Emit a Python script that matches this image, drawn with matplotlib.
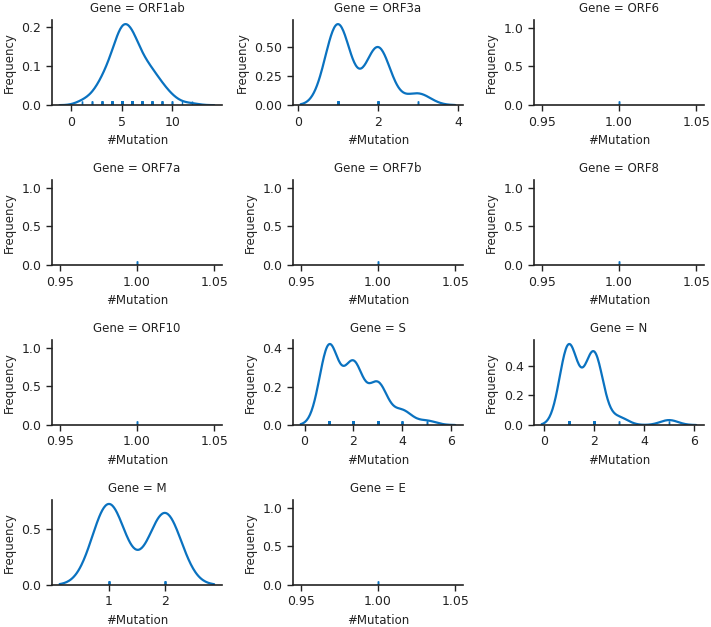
import numpy as np
import matplotlib
matplotlib.use("Agg")
import matplotlib.pyplot as plt
from matplotlib.ticker import MaxNLocator
import seaborn as sns

# number of mutations per sample (value) and how many samples had it (count)
orf1ab_values = [1, 2, 3, 4, 5, 6, 7, 8, 9, 10, 11, 12]
orf1ab_counts = [2, 4, 11, 20, 36, 32, 20, 15, 9, 4, 1, 1]
orf3a_values = [1, 2, 3]
orf3a_counts = [21, 15, 3]
s_values = [1, 2, 3, 4, 5]
s_counts = [56, 43, 29, 10, 3]
n_values = [1, 2, 3, 5]
n_counts = [32, 29, 3, 2]
m_values = [1, 2]
m_counts = [9, 8]
single_values = [1]   # ORF6, ORF7a, ORF7b, ORF8, ORF10, E
single_counts = [3]

genes = ["ORF1ab", "ORF3a", "ORF6", "ORF7a", "ORF7b", "ORF8",
         "ORF10", "S", "N", "M", "E"]
gene_data = {
    "ORF1ab": (orf1ab_values, orf1ab_counts),
    "ORF3a": (orf3a_values, orf3a_counts),
    "S": (s_values, s_counts),
    "N": (n_values, n_counts),
    "M": (m_values, m_counts),
}

color = "#0a72c0"

sns.set_style("ticks")
plt.rcParams["font.family"] = ["DejaVu Sans"]

fig, axes = plt.subplots(4, 3, figsize=(7.11, 6.27), dpi=100)
fig.subplots_adjust(left=0.073, right=0.990, bottom=0.067, top=0.968,
                    wspace=0.418, hspace=0.88)
axes = axes.flatten()

for ax, gene in zip(axes, genes):
    values, counts = gene_data.get(gene, (single_values, single_counts))
    obs = np.repeat(values, counts).astype(float)
    if len(values) > 1:
        sns.kdeplot(x=obs, ax=ax, color=color, lw=1.6, cut=3)
        peak = max(line.get_ydata().max() for line in ax.lines)
        sns.rugplot(x=obs, ax=ax, color=color, height=0.05, lw=1.2)
        ax.set_ylim(0, peak * 1.05)
    else:
        sns.rugplot(x=obs, ax=ax, color=color, height=0.05, lw=1.2)
        ax.set_ylim(0, 1.1)

    ax.xaxis.set_major_locator(MaxNLocator(nbins=4, steps=[1, 2, 2.5, 5, 10]))
    ax.yaxis.set_major_locator(MaxNLocator(nbins=3, steps=[1, 2, 2.5, 5, 10]))
    if gene == "M":
        ax.set_xticks(m_values)

    ax.set_title(f"Gene = {gene}", fontsize=8.5, pad=6, color="#222222")
    ax.set_xlabel("#Mutation", fontsize=8.5, color="#222222")
    ax.set_ylabel("Frequency", fontsize=8.5, color="#222222")
    ax.tick_params(labelsize=9, length=4, width=1.0, colors="#222222")
    for sp in ["left", "bottom"]:
        ax.spines[sp].set_linewidth(1.2)
        ax.spines[sp].set_color("#222222")

axes[-1].remove()
sns.despine(fig=fig)

fig.savefig("out.png", dpi=100)
